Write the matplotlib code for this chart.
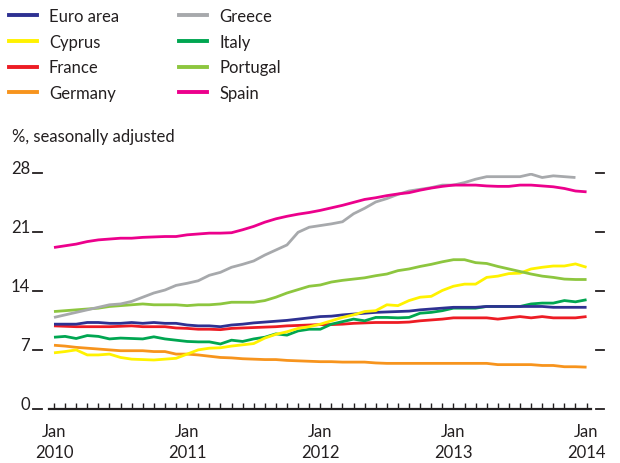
import matplotlib
matplotlib.use("Agg")
import matplotlib.pyplot as plt
import matplotlib.transforms as mtransforms
from matplotlib.lines import Line2D
import numpy as np

plt.rcParams['font.family'] = ['Lato', 'DejaVu Sans']

# Monthly data, Jan 2010 .. Jan 2014 (49 months); Greece to Dec 2013
euro_area = [10.1, 10.1, 10.1, 10.3, 10.3, 10.2, 10.2, 10.3, 10.2, 10.3, 10.2, 10.2,
             10.0, 9.9, 9.9, 9.8, 10.0, 10.1, 10.25, 10.35, 10.45, 10.55, 10.7, 10.85,
             11.0, 11.05, 11.2, 11.3, 11.4, 11.5, 11.55, 11.6, 11.65, 11.8, 11.9, 12.0,
             12.1, 12.1, 12.1, 12.2, 12.2, 12.2, 12.2, 12.2, 12.2, 12.1, 12.1, 12.1, 12.1]
cyprus = [6.7, 6.85, 7.05, 6.45, 6.45, 6.55, 6.15, 5.95, 5.9, 5.85, 5.95, 6.05,
          6.55, 7.05, 7.25, 7.3, 7.5, 7.65, 7.8, 8.45, 8.9, 9.2, 9.6, 9.8,
          10.1, 10.5, 10.9, 11.2, 11.6, 11.7, 12.4, 12.3, 12.9, 13.3, 13.4, 14.1,
          14.6, 14.85, 14.85, 15.65, 15.8, 16.1, 16.15, 16.65, 16.85, 17.0, 17.0, 17.25, 16.85]
france = [9.9, 9.85, 9.8, 9.8, 9.8, 9.8, 9.85, 9.9, 9.8, 9.8, 9.8, 9.65,
          9.6, 9.5, 9.5, 9.45, 9.6, 9.65, 9.7, 9.75, 9.8, 9.9, 9.95, 10.0,
          10.05, 10.05, 10.1, 10.2, 10.25, 10.3, 10.3, 10.3, 10.35, 10.5, 10.6, 10.7,
          10.85, 10.85, 10.85, 10.85, 10.7, 10.85, 11.0, 10.85, 11.0, 10.85, 10.85, 10.85, 11.0]
germany = [7.6, 7.5, 7.35, 7.25, 7.15, 7.05, 6.95, 6.95, 6.95, 6.85, 6.85, 6.55,
           6.55, 6.45, 6.3, 6.15, 6.1, 6.0, 5.95, 5.9, 5.9, 5.8, 5.75, 5.7,
           5.65, 5.65, 5.6, 5.6, 5.6, 5.5, 5.45, 5.45, 5.45, 5.45, 5.45, 5.45,
           5.45, 5.45, 5.45, 5.45, 5.3, 5.3, 5.3, 5.3, 5.2, 5.2, 5.05, 5.05, 5.0]
greece = [10.9, 11.2, 11.5, 11.8, 12.1, 12.4, 12.5, 12.8, 13.3, 13.8, 14.15, 14.7,
          14.95, 15.25, 15.9, 16.25, 16.85, 17.2, 17.6, 18.3, 18.9, 19.5, 21.0, 21.6,
          21.8, 22.0, 22.25, 23.2, 23.85, 24.6, 25.0, 25.5, 25.9, 26.1, 26.3, 26.6,
          26.6, 26.9, 27.3, 27.6, 27.6, 27.6, 27.6, 27.9, 27.5, 27.7, 27.6, 27.5]
italy = [8.55, 8.65, 8.4, 8.75, 8.65, 8.35, 8.45, 8.4, 8.35, 8.6, 8.35, 8.2,
         8.05, 8.0, 8.0, 7.75, 8.2, 8.05, 8.35, 8.55, 8.95, 8.8, 9.3, 9.5,
         9.5, 10.1, 10.4, 10.7, 10.5, 10.9, 10.9, 10.85, 10.9, 11.4, 11.5, 11.7,
         12.0, 12.0, 12.0, 12.2, 12.2, 12.2, 12.2, 12.5, 12.6, 12.6, 12.9, 12.75, 13.0]
portugal = [11.6, 11.7, 11.8, 11.9, 12.0, 12.2, 12.3, 12.4, 12.5, 12.4, 12.4, 12.4,
            12.3, 12.4, 12.4, 12.5, 12.7, 12.7, 12.7, 12.9, 13.3, 13.8, 14.2, 14.6,
            14.75, 15.1, 15.3, 15.45, 15.6, 15.85, 16.05, 16.45, 16.65, 16.95, 17.2, 17.5,
            17.75, 17.75, 17.4, 17.3, 16.95, 16.65, 16.35, 16.05, 15.8, 15.65, 15.45, 15.4, 15.4]
spain = [19.2, 19.4, 19.6, 19.9, 20.1, 20.2, 20.3, 20.3, 20.4, 20.45, 20.5, 20.5,
         20.7, 20.8, 20.9, 20.9, 20.95, 21.3, 21.7, 22.2, 22.6, 22.9, 23.15, 23.35,
         23.6, 23.9, 24.2, 24.55, 24.9, 25.1, 25.35, 25.55, 25.7, 26.0, 26.25, 26.45,
         26.6, 26.6, 26.6, 26.5, 26.45, 26.45, 26.6, 26.6, 26.5, 26.4, 26.2, 25.9, 25.8]

series_names = ["Euro area", "Cyprus", "France", "Germany", "Greece", "Italy", "Portugal", "Spain"]
series_values = [euro_area, cyprus, france, germany, greece, italy, portugal, spain]
series_colors = ["#2e3192", "#fff200", "#ed1c24", "#f7941d", "#a7a9ac", "#00a651", "#8dc63f", "#ec008c"]
draw_order = ["Germany", "France", "Italy", "Euro area", "Cyprus", "Portugal", "Greece", "Spain"]

yticks = [0, 7, 14, 21, 28]
xtick_labels = ["Jan\n2010", "Jan\n2011", "Jan\n2012", "Jan\n2013", "Jan\n2014"]
xtick_pos = [0, 12, 24, 36, 48]

text_color = "#231f20"

fig = plt.figure(figsize=(6.2, 4.64), dpi=100)
ax = fig.add_axes([49/620, 1 - 410.3/464, (591 - 49)/620, (410.3 - 174.3)/464])

for name in draw_order:
    i = series_names.index(name)
    vals = series_values[i]
    ax.plot(np.arange(len(vals)), vals, color=series_colors[i], lw=2.0,
            solid_joinstyle='round', solid_capstyle='butt', zorder=3)

ax.set_xlim(-0.45, 48.4)
ax.set_ylim(0, 28)
for s in ["top", "right", "left"]:
    ax.spines[s].set_visible(False)
ax.spines["bottom"].set_linewidth(1.6)
ax.spines["bottom"].set_color(text_color)

ax.set_xticks(np.arange(0, 49), minor=True)
ax.set_xticks(xtick_pos)
ax.set_xticklabels(xtick_labels, fontsize=12, color=text_color, linespacing=1.4)
ax.tick_params(axis='x', which='both', direction='in', length=4, width=1, color=text_color, pad=10)
ax.tick_params(axis='y', which='both', left=False, labelleft=False)
ax.set_yticks([])

# y tick dashes, left and right, drawn at tick values
trans = mtransforms.blended_transform_factory(ax.transAxes, ax.transData)
px = 1 / (591 - 49)
for v in yticks:
    ax.add_line(Line2D([(33 - 49) * px, (42 - 49) * px], [v, v], transform=trans,
                       color=text_color, lw=1.3, clip_on=False))
    ax.add_line(Line2D([(596 - 49) * px, (604 - 49) * px], [v, v], transform=trans,
                       color=text_color, lw=1.3, clip_on=False))
    ax.text((30 - 49) * px, v, str(v), transform=trans + mtransforms.ScaledTranslation(0, 5/100, fig.dpi_scale_trans),
            ha='right', va='center', fontsize=12, color=text_color)

fig.text(12/620, 1 - 137/464, "%, seasonally adjusted", fontsize=12, color=text_color,
         ha='left', va='center')

handles = [Line2D([], [], color=c, lw=2.8) for c in series_colors]
fig.legend(handles, series_names, ncol=2, loc='upper left', bbox_to_anchor=(4/620, 1 - 4/464),
           frameon=False, fontsize=12, handlelength=1.68, handletextpad=0.72,
           columnspacing=3.6, labelspacing=0.58, labelcolor=text_color, borderaxespad=0, borderpad=0.3)

fig.savefig("out.png", dpi=100)
